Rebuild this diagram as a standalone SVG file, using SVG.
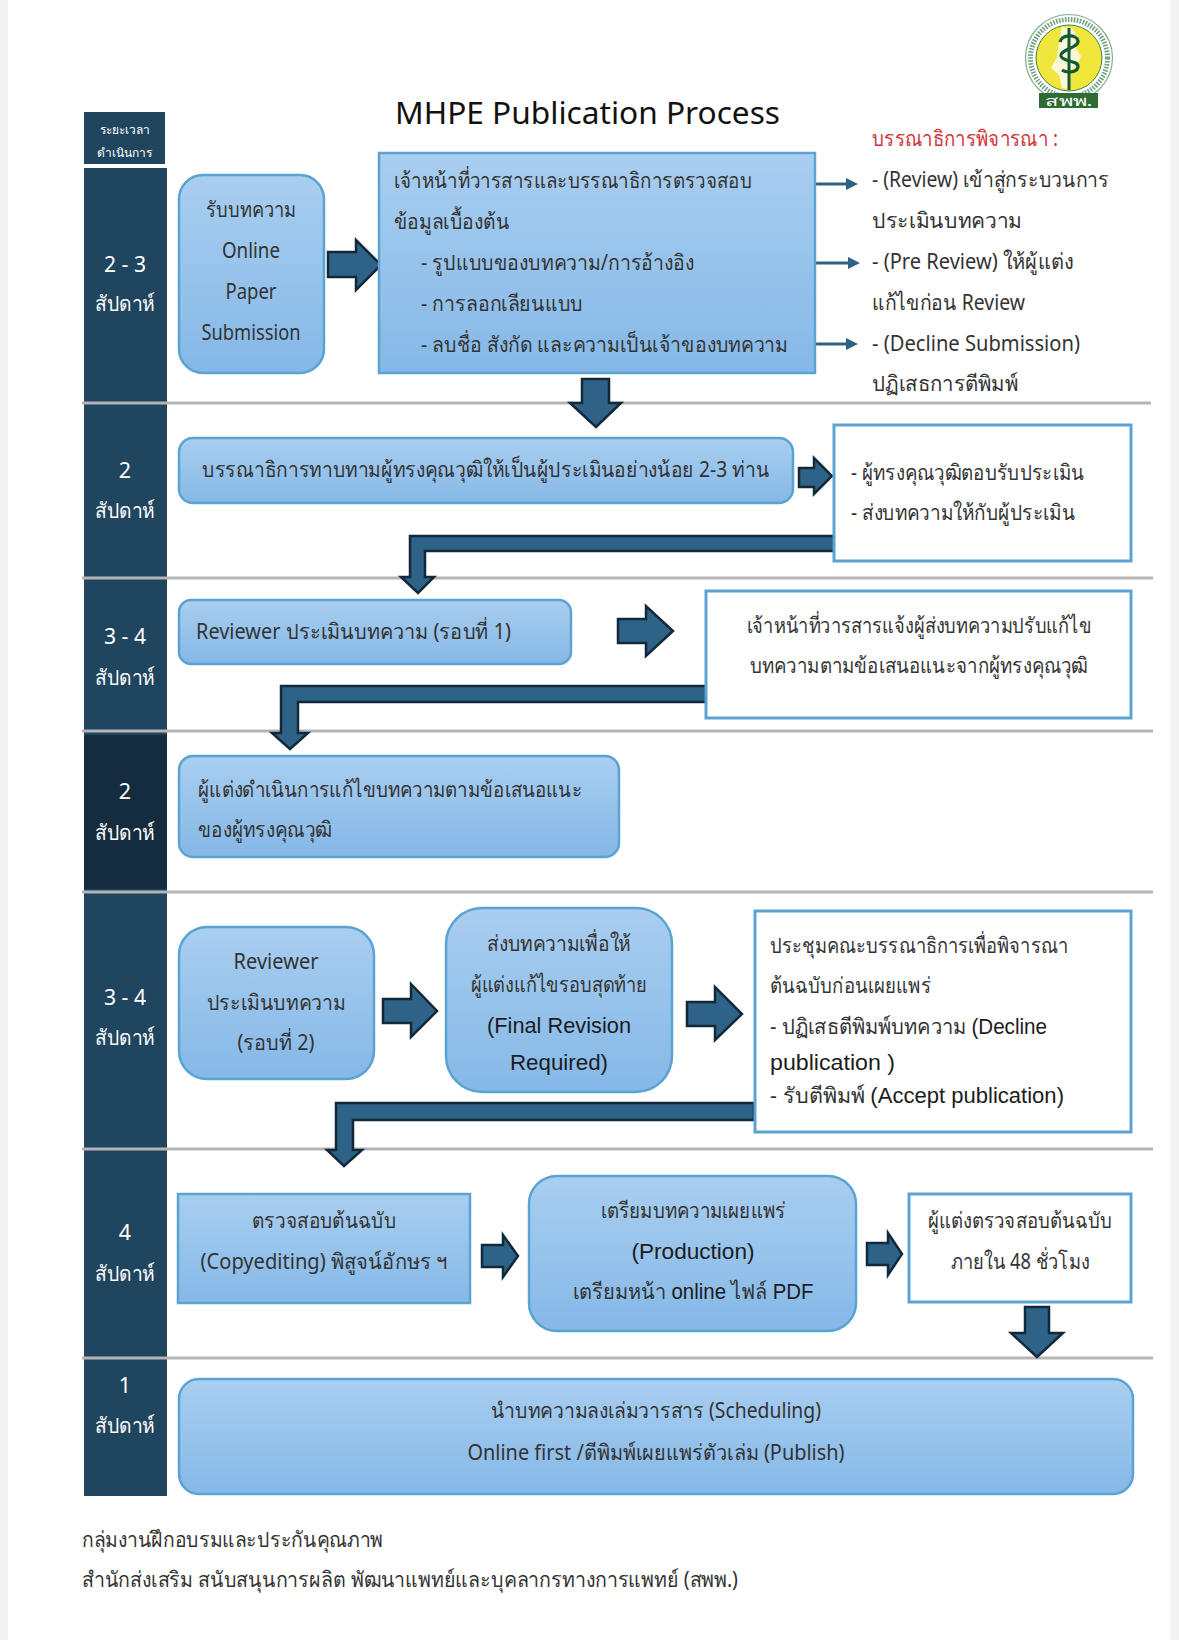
<svg xmlns="http://www.w3.org/2000/svg" width="1179" height="1640" viewBox="0 0 1179 1640">
<style>
text{font-family:"Noto Sans","Noto Sans CJK SC",sans-serif;font-size:21.5px;fill:#333;font-weight:400}
.c{text-anchor:middle}
.w{fill:#fff}
.ar{font-family:"Liberation Sans",sans-serif;font-size:22px;fill:#1c1c1c;font-weight:400}
.b{fill:url(#g);stroke:#5aa3d3;stroke-width:2.5}
.o{fill:#fff;stroke:#5aa3d3;stroke-width:3}
.a{fill:#2e6286;stroke:#12293b;stroke-width:2.5}
.l{stroke:#b5b5b5;stroke-width:3}
.t{stroke:#2e6286;stroke-width:3;fill:none}
.h{fill:#2e6286}
.col{fill:#20455f}
</style>
<defs>
<linearGradient id="g" x1="0" y1="0" x2="0" y2="1"><stop offset="0" stop-color="#a9cef0"/><stop offset="1" stop-color="#85b8e7"/></linearGradient>
</defs>
<rect width="1179" height="1640" fill="#fff"/>
<rect x="0" y="0" width="8" height="1640" fill="#f3f3f3"/>
<rect x="1170" y="0" width="9" height="1640" fill="#f3f3f3"/>

<g id="logo">
<circle cx="1069" cy="58" r="43.5" fill="#fff" stroke="#7fae86" stroke-width="1.2"/>
<circle cx="1069" cy="58" r="38.5" fill="none" stroke="#4f8a5a" stroke-width="5" stroke-dasharray="1.6 1.4" opacity=".8"/>
<circle cx="1069" cy="58" r="33" fill="#f1e63b" stroke="#3f7f50" stroke-width="1"/>
<path d="M1062 27l10 1 6 9-2 12 5 7-4 10-6 5-2 18-7-1-3-13-8-7 6-11 2-15z" fill="#f9f8d8"/>
<path d="M1069 28V90" stroke="#145a32" stroke-width="3" fill="none"/>
<path d="M1060 42c2-8 17-8 18-1 1 7-18 8-17 15 1 6 18 4 17 11-1 6-12 6-16 3" stroke="#145a32" stroke-width="3.2" fill="none"/>
<rect x="1039" y="93" width="59" height="15" fill="#2e6b35"/>
<text class="c w" x="1068.500" y="106" style="font-size:14px" textLength="48" lengthAdjust="spacingAndGlyphs">สพพ.</text>
</g>

<text id="title" class="c" x="587.500" y="124" style="font-size:31px;fill:#111" textLength="385" lengthAdjust="spacingAndGlyphs">MHPE Publication Process</text>

<g id="timeline">
<rect x="84" y="112" width="81" height="52" class="col"/>
<text class="c w" x="124.500" y="134" style="font-size:12px">ระยะเวลา</text>
<text class="c w" x="124.500" y="157" style="font-size:12px">ดำเนินการ</text>
<rect x="84" y="168" width="83" height="1328" class="col"/>
<rect x="84" y="735" width="83" height="154" fill="#152c3f"/>
<text class="c w" x="125" y="272" textLength="42" lengthAdjust="spacingAndGlyphs">2 - 3</text><text class="c w" x="125" y="311" textLength="60" lengthAdjust="spacingAndGlyphs">สัปดาห์</text>
<text class="c w" x="125" y="478">2</text><text class="c w" x="125" y="518" textLength="60" lengthAdjust="spacingAndGlyphs">สัปดาห์</text>
<text class="c w" x="125" y="644" textLength="42" lengthAdjust="spacingAndGlyphs">3 - 4</text><text class="c w" x="125" y="685" textLength="60" lengthAdjust="spacingAndGlyphs">สัปดาห์</text>
<text class="c w" x="125" y="799">2</text><text class="c w" x="125" y="840" textLength="60" lengthAdjust="spacingAndGlyphs">สัปดาห์</text>
<text class="c w" x="125" y="1005" textLength="42" lengthAdjust="spacingAndGlyphs">3 - 4</text><text class="c w" x="125" y="1045" textLength="60" lengthAdjust="spacingAndGlyphs">สัปดาห์</text>
<text class="c w" x="125" y="1240">4</text><text class="c w" x="125" y="1281" textLength="60" lengthAdjust="spacingAndGlyphs">สัปดาห์</text>
<text class="c w" x="125" y="1393">1</text><text class="c w" x="125" y="1433" textLength="60" lengthAdjust="spacingAndGlyphs">สัปดาห์</text>
</g>

<g id="dividers">
<path class="l" d="M82 403H1151M82 578H1153M82 731H1153M82 892H1153M82 1149H1153M82 1358H1153"/>
</g>

<g id="connectors">
<path class="a" d="M328 252H356V240L381 265 356 290V277H328Z"/>
<path class="a" d="M582 379H609V403H621L596 427 570 403H582Z"/>
<path class="t" d="M812 184H848M812 263H848M812 344H848"/>
<path class="h" d="M858 184L846 178V190ZM860 263L848 257V269ZM858 344L846 338V350Z"/>
<path class="a" d="M799 468H814V458L832 476 814 494V487H799Z"/>
<path class="a" d="M834 536H410V577H401L418 593 434 577H425V551H834Z"/>
<path class="a" d="M706 686H281V733H272L290 749 308 733H298V702H706Z"/>
<path class="a" d="M618 619H646V606L673 631 646 656V643H618Z"/>
<path class="a" d="M383 999H411V984L437 1011 411 1037V1023H383Z"/>
<path class="a" d="M687 1002H715V987L742 1014 715 1040V1026H687Z"/>
<path class="a" d="M754 1103H336V1150H327L344 1166 362 1150H353V1120H754Z"/>
<path class="a" d="M482 1245H503V1235L518 1256 503 1277V1267H482Z"/>
<path class="a" d="M867 1243H888V1233L902 1254 888 1275V1265H867Z"/>
<path class="a" d="M1025 1307H1049V1333H1063L1037 1357 1011 1333H1025Z"/>
</g>

<g id="n1"><rect class="b" x="179" y="175" width="145" height="198" rx="24"/>
<text class="c" x="251" y="217" textLength="90" lengthAdjust="spacingAndGlyphs">รับบทความ</text><text class="c" x="251" y="258" textLength="58" lengthAdjust="spacingAndGlyphs">Online</text><text class="c" x="251" y="299" textLength="51" lengthAdjust="spacingAndGlyphs">Paper</text><text class="c" x="251" y="340" textLength="99" lengthAdjust="spacingAndGlyphs">Submission</text></g>

<g id="n2"><rect class="b" x="379" y="153" width="436" height="220"/>
<text x="394" y="188" textLength="358" lengthAdjust="spacingAndGlyphs">เจ้าหน้าที่วารสารและบรรณาธิการตรวจสอบ</text>
<text x="394" y="229" textLength="115" lengthAdjust="spacingAndGlyphs">ข้อมูลเบื้องต้น</text>
<text x="421" y="270" textLength="273" lengthAdjust="spacingAndGlyphs">- รูปแบบของบทความ/การอ้างอิง</text>
<text x="421" y="311" textLength="162" lengthAdjust="spacingAndGlyphs">- การลอกเลียนแบบ</text>
<text x="421" y="352" textLength="367" lengthAdjust="spacingAndGlyphs">- ลบชื่อ สังกัด และความเป็นเจ้าของบทความ</text></g>

<g id="n3">
<text x="872" y="146" style="fill:#d0343a" textLength="186" lengthAdjust="spacingAndGlyphs">บรรณาธิการพิจารณา :</text>
<text x="872" y="187" textLength="237" lengthAdjust="spacingAndGlyphs">- (Review) เข้าสู่กระบวนการ</text>
<text x="872" y="228" textLength="150" lengthAdjust="spacingAndGlyphs">ประเมินบทความ</text>
<text x="872" y="269" textLength="201" lengthAdjust="spacingAndGlyphs">- (Pre Review) ให้ผู้แต่ง</text>
<text x="872" y="310" textLength="153" lengthAdjust="spacingAndGlyphs">แก้ไขก่อน Review</text>
<text x="872" y="351" textLength="208" lengthAdjust="spacingAndGlyphs">- (Decline Submission)</text>
<text x="872" y="391" textLength="146" lengthAdjust="spacingAndGlyphs">ปฏิเสธการตีพิมพ์</text></g>

<g id="n4"><rect class="b" x="179" y="438" width="614" height="65" rx="14"/>
<text x="202" y="477" textLength="567" lengthAdjust="spacingAndGlyphs">บรรณาธิการทาบทามผู้ทรงคุณวุฒิให้เป็นผู้ประเมินอย่างน้อย 2-3 ท่าน</text></g>

<g id="n5"><rect class="o" x="834" y="425" width="297" height="136"/>
<text x="851" y="480" textLength="233" lengthAdjust="spacingAndGlyphs">- ผู้ทรงคุณวุฒิตอบรับประเมิน</text>
<text x="851" y="520" textLength="224" lengthAdjust="spacingAndGlyphs">- ส่งบทความให้กับผู้ประเมิน</text></g>

<g id="n6"><rect class="b" x="179" y="600" width="392" height="64" rx="12"/>
<text x="196" y="639" textLength="315" lengthAdjust="spacingAndGlyphs">Reviewer ประเมินบทความ (รอบที่ 1)</text></g>

<g id="n7"><rect class="o" x="706" y="591" width="425" height="127"/>
<text class="c" x="919" y="633" textLength="345" lengthAdjust="spacingAndGlyphs">เจ้าหน้าที่วารสารแจ้งผู้ส่งบทความปรับแก้ไข</text>
<text class="c" x="919" y="673" textLength="338" lengthAdjust="spacingAndGlyphs">บทความตามข้อเสนอแนะจากผู้ทรงคุณวุฒิ</text></g>

<g id="n8"><rect class="b" x="179" y="756" width="440" height="101" rx="14"/>
<text x="198" y="797" textLength="384" lengthAdjust="spacingAndGlyphs">ผู้แต่งดำเนินการแก้ไขบทความตามข้อเสนอแนะ</text>
<text x="198" y="837" textLength="134" lengthAdjust="spacingAndGlyphs">ของผู้ทรงคุณวุฒิ</text></g>

<g id="n9"><rect class="b" x="179" y="927" width="195" height="152" rx="28"/>
<text class="c" x="276" y="969" textLength="85" lengthAdjust="spacingAndGlyphs">Reviewer</text><text class="c" x="276" y="1010" textLength="139" lengthAdjust="spacingAndGlyphs">ประเมินบทความ</text><text class="c" x="276" y="1050" textLength="77" lengthAdjust="spacingAndGlyphs">(รอบที่ 2)</text></g>

<g id="n10"><rect class="b" x="446" y="908" width="226" height="184" rx="36"/>
<text class="c" x="559" y="951" textLength="144" lengthAdjust="spacingAndGlyphs">ส่งบทความเพื่อให้</text><text class="c" x="559" y="992" textLength="177" lengthAdjust="spacingAndGlyphs">ผู้แต่งแก้ไขรอบสุดท้าย</text><text class="c ar" x="559" y="1033" textLength="144" lengthAdjust="spacingAndGlyphs">(Final Revision</text><text class="c ar" x="559" y="1070" textLength="98" lengthAdjust="spacingAndGlyphs">Required)</text></g>

<g id="n11"><rect class="o" x="755" y="911" width="376" height="221"/>
<text x="770" y="953" textLength="298" lengthAdjust="spacingAndGlyphs">ประชุมคณะบรรณาธิการเพื่อพิจารณา</text>
<text x="770" y="993" textLength="161" lengthAdjust="spacingAndGlyphs">ต้นฉบับก่อนเผยแพร่</text>
<text x="770" y="1034" textLength="277" lengthAdjust="spacingAndGlyphs">- ปฏิเสธตีพิมพ์บทความ <tspan class="ar">(Decline</tspan></text>
<text x="770" y="1070" class="ar" textLength="125" lengthAdjust="spacingAndGlyphs">publication )</text>
<text x="770" y="1103" textLength="294" lengthAdjust="spacingAndGlyphs">- รับตีพิมพ์ <tspan class="ar">(Accept publication)</tspan></text></g>

<g id="n12"><rect class="b" x="178" y="1194" width="292" height="109"/>
<text class="c" x="324" y="1228" textLength="144" lengthAdjust="spacingAndGlyphs">ตรวจสอบต้นฉบับ</text><text class="c" x="324" y="1269" textLength="247" lengthAdjust="spacingAndGlyphs">(Copyediting) พิสูจน์อักษร ฯ</text></g>

<g id="n13"><rect class="b" x="529" y="1176" width="327" height="155" rx="28"/>
<text class="c" x="693" y="1218" textLength="185" lengthAdjust="spacingAndGlyphs">เตรียมบทความเผยแพร่</text><text class="c ar" x="693" y="1259" textLength="123" lengthAdjust="spacingAndGlyphs">(Production)</text><text class="c" x="693" y="1299" textLength="241" lengthAdjust="spacingAndGlyphs">เตรียมหน้า <tspan class="ar">online</tspan> ไฟล์ <tspan class="ar">PDF</tspan></text></g>

<g id="n14"><rect class="o" x="909" y="1194" width="222" height="108"/>
<text class="c" x="1020" y="1228" textLength="185" lengthAdjust="spacingAndGlyphs">ผู้แต่งตรวจสอบต้นฉบับ</text><text class="c" x="1020" y="1269" textLength="138" lengthAdjust="spacingAndGlyphs">ภายใน 48 ชั่วโมง</text></g>

<g id="n15"><rect class="b" x="179" y="1379" width="954" height="115" rx="20"/>
<text class="c" x="656" y="1418" textLength="330" lengthAdjust="spacingAndGlyphs">นำบทความลงเล่มวารสาร (Scheduling)</text><text class="c" x="656" y="1460" textLength="377" lengthAdjust="spacingAndGlyphs">Online first /ตีพิมพ์เผยแพร่ตัวเล่ม (Publish)</text></g>

<g id="footer">
<text x="82" y="1547" textLength="301" lengthAdjust="spacingAndGlyphs">กลุ่มงานฝึกอบรมและประกันคุณภาพ</text>
<text x="82" y="1587" textLength="656" lengthAdjust="spacingAndGlyphs">สำนักส่งเสริม สนับสนุนการผลิต พัฒนาแพทย์และบุคลากรทางการแพทย์ (สพพ.)</text>
</g>
</svg>
